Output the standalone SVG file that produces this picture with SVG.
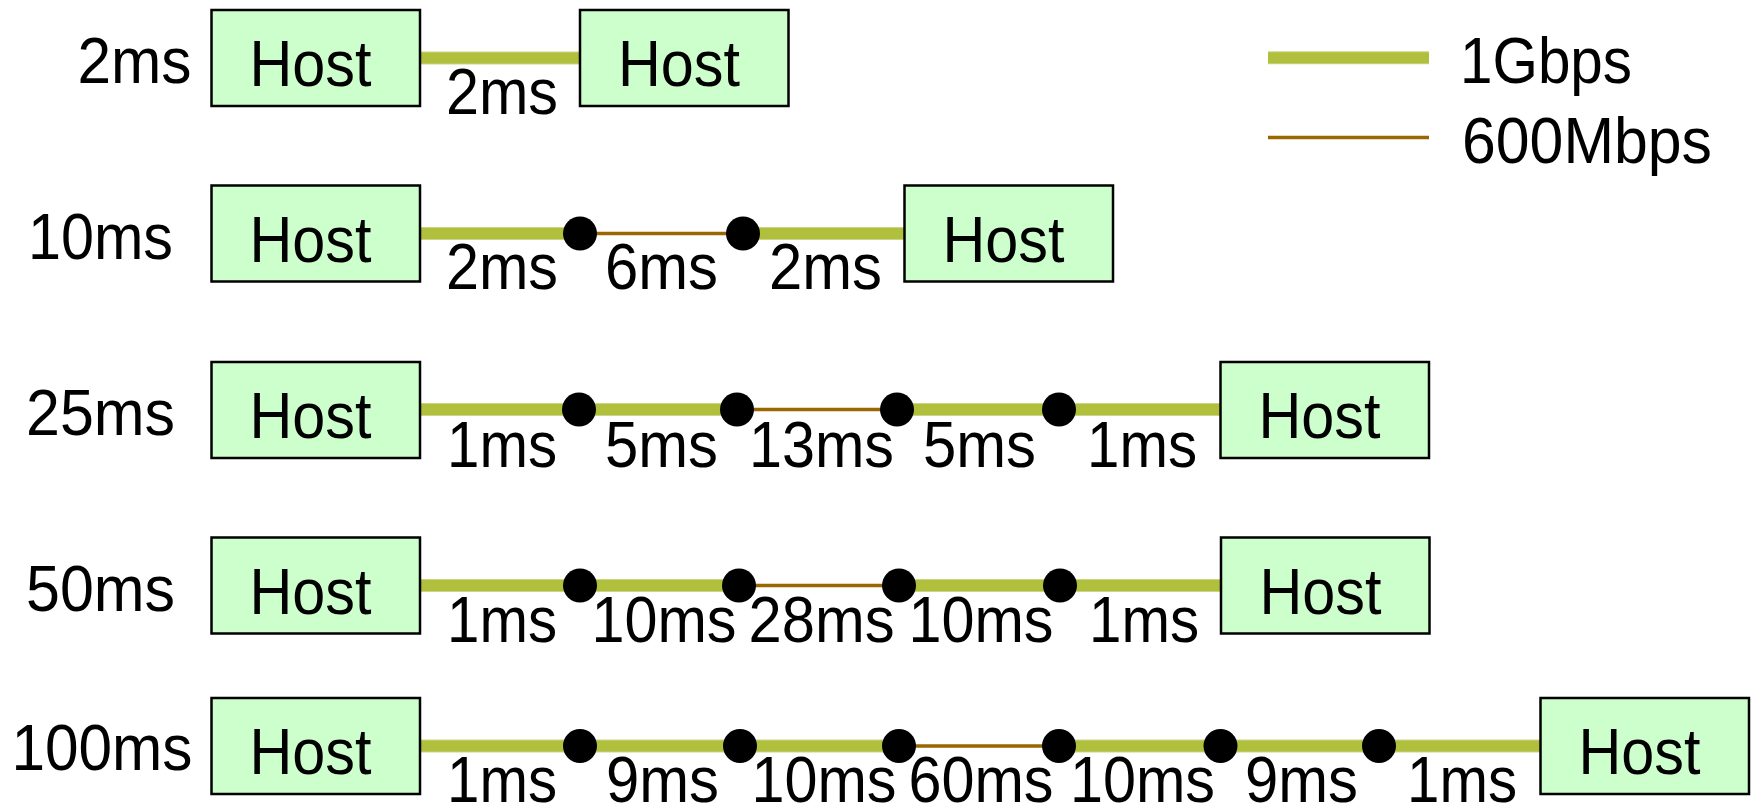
<svg xmlns="http://www.w3.org/2000/svg" width="1755" height="807" viewBox="0 0 1755 807">
<style>
.host rect{fill:#CCFFCC;stroke:#000;stroke-width:2.5}
text{font-family:"Liberation Sans",Arial,sans-serif;font-size:64px;fill:#000}
.g{stroke:#B0C03C;stroke-width:11;fill:none}
.ge{stroke:#CAD58A;stroke-width:13;fill:none}
.b{stroke:#996600;stroke-width:3.5;fill:none}
.dot{fill:#000}
</style>
<rect width="1755" height="807" fill="#fff"/>
<g id="row-labels">
<text x="77.5" y="83" textLength="114" lengthAdjust="spacingAndGlyphs">2ms</text>
<text x="28" y="258.5" textLength="145" lengthAdjust="spacingAndGlyphs">10ms</text>
<text x="26" y="435" textLength="149" lengthAdjust="spacingAndGlyphs">25ms</text>
<text x="26" y="610.5" textLength="149" lengthAdjust="spacingAndGlyphs">50ms</text>
<text x="11.5" y="770" textLength="181" lengthAdjust="spacingAndGlyphs">100ms</text>
</g>
<g id="connectors">
<!-- row 1 -->
<path class="ge" d="M420 58H580"/><path class="g" d="M420 58H580"/>
<!-- row 2 -->
<path class="ge" d="M420 233.5H580M743 233.5H904.5"/><path class="g" d="M420 233.5H580M743 233.5H904.5"/>
<path class="b" d="M580 233.5H743"/>
<!-- row 3 -->
<path class="ge" d="M420 409.5H737M897 409.5H1220.5"/><path class="g" d="M420 409.5H737M897 409.5H1220.5"/>
<path class="b" d="M737 409.5H897"/>
<!-- row 4 -->
<path class="ge" d="M420 585.5H739M899 585.5H1221"/><path class="g" d="M420 585.5H739M899 585.5H1221"/>
<path class="b" d="M739 585.5H899"/>
<!-- row 5 -->
<path class="ge" d="M420 746H899M1059 746H1540.5"/><path class="g" d="M420 746H899M1059 746H1540.5"/>
<path class="b" d="M899 746H1059"/>
<!-- legend -->
<path class="ge" d="M1268 57.7H1429"/><path class="g" d="M1268 57.7H1429"/>
<path class="b" d="M1268 137.5H1429"/>
</g>
<g id="link-labels">
<text x="446" y="114" textLength="112" lengthAdjust="spacingAndGlyphs">2ms</text>
<text x="446" y="289" textLength="112" lengthAdjust="spacingAndGlyphs">2ms</text>
<text x="605" y="289" textLength="113" lengthAdjust="spacingAndGlyphs">6ms</text>
<text x="769" y="289" textLength="113" lengthAdjust="spacingAndGlyphs">2ms</text>
<text x="447" y="466.5" textLength="110" lengthAdjust="spacingAndGlyphs">1ms</text>
<text x="605" y="466.5" textLength="113" lengthAdjust="spacingAndGlyphs">5ms</text>
<text x="749" y="466.5" textLength="145" lengthAdjust="spacingAndGlyphs">13ms</text>
<text x="923" y="466.5" textLength="113" lengthAdjust="spacingAndGlyphs">5ms</text>
<text x="1087" y="466.5" textLength="110" lengthAdjust="spacingAndGlyphs">1ms</text>
<text x="447" y="642" textLength="110" lengthAdjust="spacingAndGlyphs">1ms</text>
<text x="591.5" y="642" textLength="145" lengthAdjust="spacingAndGlyphs">10ms</text>
<text x="748.5" y="642" textLength="146" lengthAdjust="spacingAndGlyphs">28ms</text>
<text x="908.5" y="642" textLength="145" lengthAdjust="spacingAndGlyphs">10ms</text>
<text x="1089" y="642" textLength="110" lengthAdjust="spacingAndGlyphs">1ms</text>
<text x="447" y="802" textLength="110" lengthAdjust="spacingAndGlyphs">1ms</text>
<text x="606" y="802" textLength="113" lengthAdjust="spacingAndGlyphs">9ms</text>
<text x="751.5" y="802" textLength="145" lengthAdjust="spacingAndGlyphs">10ms</text>
<text x="908.5" y="802" textLength="145" lengthAdjust="spacingAndGlyphs">60ms</text>
<text x="1070" y="802" textLength="145" lengthAdjust="spacingAndGlyphs">10ms</text>
<text x="1245" y="802" textLength="113" lengthAdjust="spacingAndGlyphs">9ms</text>
<text x="1407" y="802" textLength="110" lengthAdjust="spacingAndGlyphs">1ms</text>
</g>
<g id="legend-labels">
<text x="1460" y="83" textLength="172" lengthAdjust="spacingAndGlyphs">1Gbps</text>
<text x="1462" y="163" textLength="250" lengthAdjust="spacingAndGlyphs">600Mbps</text>
</g>
<g id="host-1a" class="host"><rect x="211.5" y="10" width="208.5" height="96"/><text x="249.5" y="86" textLength="122" lengthAdjust="spacingAndGlyphs">Host</text></g>
<g id="host-1b" class="host"><rect x="580" y="10" width="208.5" height="96"/><text x="618" y="86" textLength="122" lengthAdjust="spacingAndGlyphs">Host</text></g>
<g id="host-2a" class="host"><rect x="211.5" y="185.5" width="208.5" height="96"/><text x="249.5" y="261.5" textLength="122" lengthAdjust="spacingAndGlyphs">Host</text></g>
<g id="host-2b" class="host"><rect x="904.5" y="185.5" width="208.5" height="96"/><text x="942.5" y="261.5" textLength="122" lengthAdjust="spacingAndGlyphs">Host</text></g>
<g id="host-3a" class="host"><rect x="211.5" y="362" width="208.5" height="96"/><text x="249.5" y="437.5" textLength="122" lengthAdjust="spacingAndGlyphs">Host</text></g>
<g id="host-3b" class="host"><rect x="1220.5" y="362" width="208.5" height="96"/><text x="1258.5" y="437.5" textLength="122" lengthAdjust="spacingAndGlyphs">Host</text></g>
<g id="host-4a" class="host"><rect x="211.5" y="537.5" width="208.5" height="96"/><text x="249.5" y="613.5" textLength="122" lengthAdjust="spacingAndGlyphs">Host</text></g>
<g id="host-4b" class="host"><rect x="1221" y="537.5" width="208.5" height="96"/><text x="1259.5" y="613.5" textLength="122" lengthAdjust="spacingAndGlyphs">Host</text></g>
<g id="host-5a" class="host"><rect x="211.5" y="698" width="208.5" height="96"/><text x="249.5" y="774" textLength="122" lengthAdjust="spacingAndGlyphs">Host</text></g>
<g id="host-5b" class="host"><rect x="1540.5" y="698" width="208.5" height="96"/><text x="1578.5" y="774" textLength="122" lengthAdjust="spacingAndGlyphs">Host</text></g>
<g id="router-2-1"><circle class="dot" cx="580" cy="233.5" r="17"/></g>
<g id="router-2-2"><circle class="dot" cx="743" cy="233.5" r="17"/></g>
<g id="router-3-1"><circle class="dot" cx="579" cy="409.5" r="17"/></g>
<g id="router-3-2"><circle class="dot" cx="737" cy="409.5" r="17"/></g>
<g id="router-3-3"><circle class="dot" cx="897" cy="409.5" r="17"/></g>
<g id="router-3-4"><circle class="dot" cx="1059" cy="409.5" r="17"/></g>
<g id="router-4-1"><circle class="dot" cx="580" cy="585.5" r="17"/></g>
<g id="router-4-2"><circle class="dot" cx="739" cy="585.5" r="17"/></g>
<g id="router-4-3"><circle class="dot" cx="899" cy="585.5" r="17"/></g>
<g id="router-4-4"><circle class="dot" cx="1060" cy="585.5" r="17"/></g>
<g id="router-5-1"><circle class="dot" cx="580" cy="746" r="17"/></g>
<g id="router-5-2"><circle class="dot" cx="740" cy="746" r="17"/></g>
<g id="router-5-3"><circle class="dot" cx="899" cy="746" r="17"/></g>
<g id="router-5-4"><circle class="dot" cx="1059" cy="746" r="17"/></g>
<g id="router-5-5"><circle class="dot" cx="1220.5" cy="746" r="17"/></g>
<g id="router-5-6"><circle class="dot" cx="1379" cy="746" r="17"/></g>
</svg>
